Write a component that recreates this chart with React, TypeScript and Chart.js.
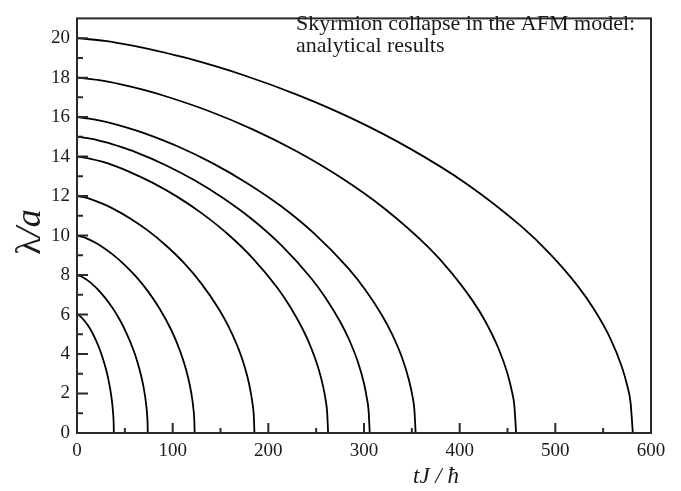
import React, { useEffect, useRef } from "react";
import { Chart, registerables } from "chart.js";

Chart.register(...registerables);

// time axis tJ/ħ (x) and radius λ/a (y)
const X_MAJOR = [0, 100, 200, 300, 400, 500, 600];
const X_MINOR = [50, 150, 250, 350, 450, 550];
const Y_MAJOR = [0, 2, 4, 6, 8, 10, 12, 14, 16, 18, 20];
const Y_MINOR = [1, 3, 5, 7, 9, 11, 13, 15, 17, 19];

// curve λ0 = 6
const T6 = [0, 1.93, 3.85, 5.78, 7.7, 11.55, 15.4, 19.25, 23.1, 26.95, 30.8, 32.73, 34.65, 35.81, 36.96, 37.73, 38.12, 38.35, 38.5];
const L6 = [6, 5.96, 5.89, 5.8, 5.69, 5.44, 5.13, 4.76, 4.32, 3.79, 3.14, 2.73, 2.24, 1.88, 1.43, 1.01, 0.72, 0.45, 0];
// curve λ0 = 8
const T8 = [0, 3.7, 7.4, 11.1, 14.8, 22.2, 29.6, 37, 44.4, 51.8, 59.2, 62.9, 66.6, 68.82, 71.04, 72.52, 73.26, 73.7, 74];
const L8 = [8, 7.94, 7.85, 7.73, 7.59, 7.25, 6.83, 6.34, 5.76, 5.05, 4.18, 3.64, 2.99, 2.51, 1.9, 1.35, 0.96, 0.6, 0];
// curve λ0 = 10
const T10 = [0, 6.15, 12.3, 18.45, 24.6, 36.9, 49.2, 61.5, 73.8, 86.1, 98.4, 104.55, 110.7, 114.39, 118.08, 120.54, 121.77, 122.51, 123];
const L10 = [10, 9.93, 9.81, 9.66, 9.49, 9.06, 8.54, 7.93, 7.2, 6.32, 5.23, 4.55, 3.74, 3.14, 2.38, 1.69, 1.19, 0.76, 0];
// curve λ0 = 12
const T12 = [0, 9.28, 18.55, 27.83, 37.1, 55.65, 74.2, 92.75, 111.3, 129.85, 148.4, 157.68, 166.95, 172.52, 178.08, 181.79, 183.65, 184.76, 185.5];
const L12 = [12, 11.92, 11.77, 11.59, 11.38, 10.87, 10.25, 9.51, 8.64, 7.58, 6.27, 5.46, 4.49, 3.77, 2.86, 2.02, 1.43, 0.91, 0];
// curve λ0 = 14
const T14 = [0, 13.13, 26.25, 39.38, 52.5, 78.75, 105, 131.25, 157.5, 183.75, 210, 223.1, 236.25, 244.1, 252, 257.25, 259.9, 261.45, 262.5];
const L14 = [14, 13.9, 13.74, 13.53, 13.28, 12.68, 11.96, 11.1, 10.08, 8.85, 7.32, 6.37, 5.23, 4.39, 3.33, 2.36, 1.67, 1.06, 0];
// curve λ0 = 15
const T15 = [0, 15.3, 30.6, 45.9, 61.2, 91.8, 122.4, 153, 183.6, 214.2, 244.8, 260.1, 275.4, 284.6, 293.8, 299.9, 302.9, 304.8, 306];
const L15 = [15, 14.9, 14.72, 14.49, 14.23, 13.59, 12.81, 11.89, 10.8, 9.48, 7.84, 6.83, 5.61, 4.71, 3.57, 2.53, 1.79, 1.13, 0];
// curve λ0 = 16
const T16 = [0, 17.7, 35.4, 53.1, 70.8, 106.2, 141.6, 177, 212.4, 247.8, 283.2, 300.9, 318.6, 329.2, 339.8, 346.9, 350.5, 352.6, 354];
const L16 = [16, 15.89, 15.7, 15.46, 15.18, 14.5, 13.67, 12.68, 11.52, 10.11, 8.36, 7.28, 5.98, 5.02, 3.81, 2.7, 1.91, 1.21, 0];
// curve λ0 = 18
const T18 = [0, 22.95, 45.9, 68.85, 91.8, 137.7, 183.6, 229.5, 275.4, 321.3, 367.2, 390.2, 413.1, 426.9, 440.6, 449.8, 454.4, 457.2, 459];
const L18 = [18, 17.87, 17.66, 17.39, 17.07, 16.31, 15.38, 14.27, 12.95, 11.37, 9.41, 8.19, 6.73, 5.65, 4.28, 3.04, 2.15, 1.36, 0];
// curve λ0 = 20
const T20 = [0, 29.05, 58.1, 87.15, 116.2, 174.3, 232.4, 290.5, 348.6, 406.7, 464.8, 493.9, 522.9, 540.3, 557.8, 569.4, 575.2, 578.7, 581];
const L20 = [20, 19.86, 19.62, 19.32, 18.97, 18.12, 17.09, 15.86, 14.39, 12.64, 10.45, 9.1, 7.48, 6.28, 4.76, 3.37, 2.39, 1.51, 0];

const CURVES: [number[], number[]][] = [
  [T6, L6], [T8, L8], [T10, L10], [T12, L12], [T14, L14],
  [T15, L15], [T16, L16], [T18, L18], [T20, L20],
];

const SERIF = "'Liberation Serif', 'Times New Roman', serif";

const decor = {
  id: "decor",
  afterDraw(chart: any) {
    const { ctx, chartArea: a, scales } = chart;
    const xs = scales.x;
    const ys = scales.y;
    ctx.save();
    ctx.strokeStyle = "#2a2a2a";
    ctx.lineWidth = 2;
    ctx.strokeRect(a.left, a.top, a.right - a.left, a.bottom - a.top);
    ctx.beginPath();
    for (const v of X_MAJOR) {
      const p = xs.getPixelForValue(v);
      ctx.moveTo(p, a.bottom);
      ctx.lineTo(p, a.bottom - 10);
    }
    for (const v of X_MINOR) {
      const p = xs.getPixelForValue(v);
      ctx.moveTo(p, a.bottom);
      ctx.lineTo(p, a.bottom - 5);
    }
    for (const v of Y_MAJOR) {
      const p = ys.getPixelForValue(v);
      ctx.moveTo(a.left, p);
      ctx.lineTo(a.left + 11, p);
    }
    for (const v of Y_MINOR) {
      const p = ys.getPixelForValue(v);
      ctx.moveTo(a.left, p);
      ctx.lineTo(a.left + 6, p);
    }
    ctx.stroke();

    ctx.fillStyle = "#1a1a1a";
    ctx.textBaseline = "alphabetic";
    ctx.textAlign = "left";
    ctx.font = `22px ${SERIF}`;
    ctx.fillText("Skyrmion collapse in the AFM model:", 296, 30);
    ctx.fillText("analytical results", 296, 52);

    // x title
    ctx.font = `italic 23px ${SERIF}`;
    ctx.textAlign = "center";
    ctx.fillText("tJ / \u0127", 436, 483);

    // y title
    ctx.save();
    ctx.translate(40, 232);
    ctx.rotate(-Math.PI / 2);
    ctx.textAlign = "left";
    const upFont = `36px ${SERIF}`;
    const itFont = `italic 36px ${SERIF}`;
    ctx.font = upFont;
    const w1 = ctx.measureText("\u03bb").width;
    ctx.font = itFont;
    const w2 = ctx.measureText("/a").width;
    const x0 = -(w1 + w2) / 2;
    ctx.font = upFont;
    ctx.fillText("\u03bb", x0, 0);
    ctx.font = itFont;
    ctx.fillText("/a", x0 + w1, 0);
    ctx.restore();

    ctx.restore();
  },
};

export default function App() {
  const ref = useRef<HTMLCanvasElement | null>(null);
  useEffect(() => {
    if (!ref.current) return;
    const datasets = CURVES.map(([t, l]) => ({
      data: t.map((x, i) => ({ x, y: l[i] })),
      borderColor: "#000000",
      borderWidth: 1.8,
      pointRadius: 0,
      fill: false,
      cubicInterpolationMode: "monotone" as const,
    }));
    const chart = new Chart(ref.current, {
      type: "line",
      data: { datasets },
      options: {
        animation: false,
        responsive: true,
        maintainAspectRatio: false,
        layout: { padding: { left: 0, right: 30, top: 4, bottom: 0 } },
        plugins: { legend: { display: false }, tooltip: { enabled: false }, title: { display: false } },
        scales: {
          x: {
            type: "linear",
            min: 0,
            max: 600,
            afterBuildTicks: (s: any) => {
              s.ticks = X_MAJOR.map((v) => ({ value: v }));
            },
            afterFit: (s: any) => {
              s.height = 58;
            },
            grid: { display: false, drawTicks: false },
            border: { display: false },
            ticks: { color: "#1a1a1a", font: { family: SERIF, size: 19 }, padding: 7, maxRotation: 0 },
          },
          y: {
            type: "linear",
            min: 0,
            max: 21,
            afterBuildTicks: (s: any) => {
              s.ticks = Y_MAJOR.map((v) => ({ value: v }));
            },
            afterFit: (s: any) => {
              s.width = 77;
            },
            grid: { display: false, drawTicks: false },
            border: { display: false },
            ticks: { color: "#1a1a1a", font: { family: SERIF, size: 19 }, padding: 7 },
          },
        },
      },
      plugins: [decor],
    });
    return () => chart.destroy();
  }, []);
  return (
    <div style={{ position: "absolute", left: 0, top: 0, width: 681, height: 491, background: "#fff" }}>
      <canvas ref={ref} />
    </div>
  );
}
